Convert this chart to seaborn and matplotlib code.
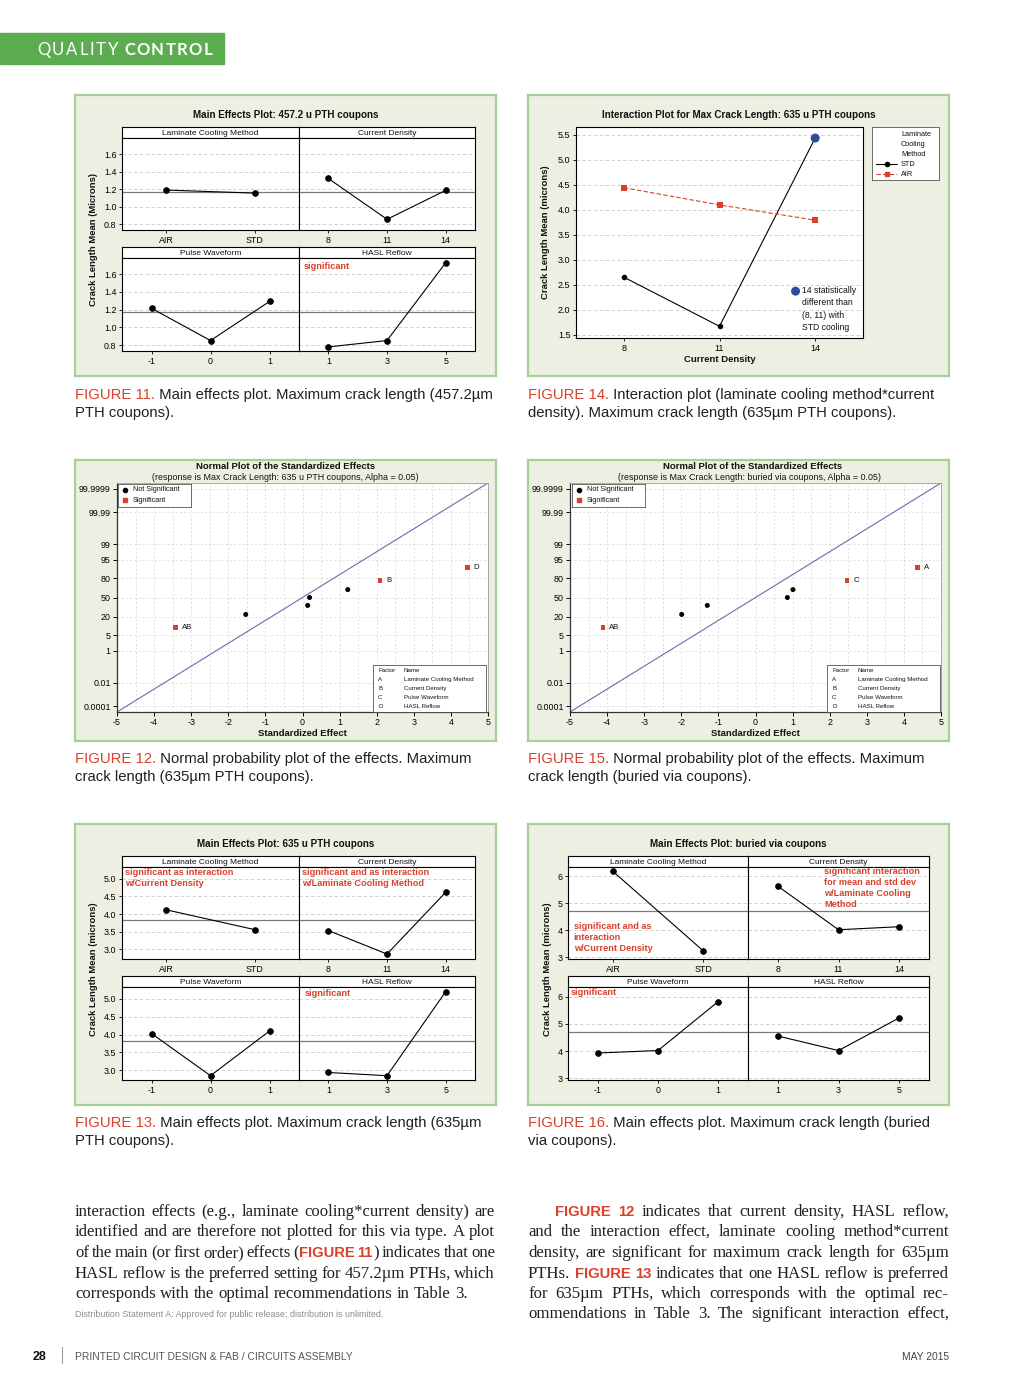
import numpy as np
import pandas as pd
import matplotlib
matplotlib.use("Agg")
import matplotlib.pyplot as plt
import seaborn as sns
from matplotlib.lines import Line2D
from statistics import NormalDist

# ------------------------------------------------------------------ data
# FIGURE 11 : main effects, 457.2 u PTH coupons
f11_lcm_levels = ["AIR", "STD"]
f11_lcm_means = [1.190, 1.155]
f11_cd_levels = ["8", "11", "14"]
f11_cd_means = [1.322, 0.857, 1.186]
f11_pw_levels = ["-1", "0", "1"]
f11_pw_means = [1.216, 0.853, 1.293]
f11_hasl_levels = ["1", "3", "5"]
f11_hasl_means = [0.781, 0.853, 1.729]
f11_grand_mean = 1.172

# FIGURE 13 : main effects, 635 u PTH coupons
f13_lcm_means = [4.12, 3.56]
f13_cd_means = [3.535, 2.87, 4.615]
f13_pw_means = [4.03, 2.85, 4.10]
f13_hasl_means = [2.94, 2.85, 5.20]
f13_grand_mean = 3.82

# FIGURE 16 : main effects, buried via coupons
f16_lcm_means = [6.185, 3.25]
f16_cd_means = [5.63, 4.025, 4.136]
f16_pw_means = [3.93, 4.02, 5.81]
f16_hasl_means = [4.55, 4.02, 5.21]
f16_grand_mean = 4.71

# FIGURE 14 : interaction plot
f14_current_density = [8, 11, 14]
f14_std_means = [2.65, 1.667, 5.433]
f14_air_means = [4.44, 4.095, 3.79]

# FIGURE 12 / 15 : normal plots of standardized effects
f12_effects = [-3.43, -1.53, 0.14, 0.19, 1.22, 2.09, 4.45]
f12_percent = [9.46, 22.97, 36.49, 50.0, 63.51, 77.03, 90.54]
f12_terms = ["AB", "", "", "", "", "B", "D"]
f12_significant = [True, False, False, False, False, True, True]

f15_effects = [-4.11, -1.99, -1.30, 0.86, 1.01, 2.47, 4.37]
f15_percent = [9.46, 22.97, 36.49, 50.0, 63.51, 77.03, 90.54]
f15_terms = ["AB", "", "", "", "", "C", "A"]
f15_significant = [True, False, False, False, False, True, True]

prob_ticks = [0.0001, 0.01, 1, 5, 20, 50, 80, 95, 99, 99.99, 99.9999]
prob_labels = ["0.0001", "0.01", "1", "5", "20", "50", "80", "95", "99", "99.99", "99.9999"]
factor_codes = ["A", "B", "C", "D"]
factor_names = ["Laminate Cooling Method", "Current Density", "Pulse Waveform", "HASL Reflow"]

# ------------------------------------------------------------------ setup
W, H = 1024, 1392
sns.set_theme(style="white")
plt.rcParams['font.family'] = ['Liberation Sans', 'DejaVu Sans']
plt.rcParams['axes.linewidth'] = 0.8
plt.rcParams['axes.unicode_minus'] = False

RED = '#d8412c'
BLUE = '#2f4c9c'
BOX_BG = '#efeee2'
BOX_EDGE = '#a6d196'
GRID = '#c9c9c9'
TXT = '#231f20'

fig = plt.figure(figsize=(W / 100, H / 100), dpi=100)
fig.patch.set_facecolor('white')
renderer = fig.canvas.get_renderer()


def ax_px(x0, y0, x1, y1):
    return fig.add_axes([x0 / W, 1 - y1 / H, (x1 - x0) / W, (y1 - y0) / H])


def ftext(x, y, s, **kw):
    return fig.text(x / W, 1 - y / H, s, **kw)


def measure(s, **kw):
    t1 = fig.text(0, 0, '|' + s + '|', **kw)
    t2 = fig.text(0, 0, '||', **kw)
    w = t1.get_window_extent(renderer).width - t2.get_window_extent(renderer).width
    t1.remove()
    t2.remove()
    return w


def bare(ax, face='white', edge='black', lw=0.8):
    ax.set_facecolor(face)
    ax.set_xticks([])
    ax.set_yticks([])
    for s in ax.spines.values():
        s.set_color(edge)
        s.set_linewidth(lw)


def panel_box(x0, y0, x1, y1):
    a = ax_px(x0, y0, x1, y1)
    bare(a, BOX_BG, BOX_EDGE, 1.6)
    a.set_zorder(-1)


# ------------------------------------------------------------------ main effects
def main_effects(box, fx0, fdiv, fx1, title, ylabel, ylabel_x, ylim, yticks, yfmt,
                 facets, grand_mean, notes):
    bx0, by0, bx1, by1 = box
    panel_box(*box)
    rows = [(by0 + 32, by0 + 43, by0 + 135), (by0 + 152, by0 + 163, by0 + 256)]
    cols = [(fx0, fdiv), (fdiv, fx1)]
    for i, (name, levels, means) in enumerate(facets):
        r, c = divmod(i, 2)
        h0, p0, p1 = rows[r]
        x0, x1 = cols[c]
        sax = ax_px(x0, h0, x1, p0)
        bare(sax)
        sax.text(0.5, 0.45, name, ha='center', va='center', fontsize=6,
                 transform=sax.transAxes, color='#111111')
        ax = ax_px(x0, p0, x1, p1)
        ax.set_facecolor('white')
        df = pd.DataFrame({'pos': np.arange(len(levels)), 'mean': means})
        ax.axhline(grand_mean, color='#7a7a7a', lw=0.9, zorder=1)
        sns.lineplot(data=df, x='pos', y='mean', marker='o', color='black',
                     linewidth=0.8, markersize=4, markeredgecolor='black',
                     errorbar=None, ax=ax, zorder=3)
        ax.set_xlim(-0.5, len(levels) - 0.5)
        ax.set_xticks(range(len(levels)))
        ax.set_xticklabels(levels)
        ax.set_ylim(*ylim)
        ax.set_yticks(yticks)
        ax.grid(True, axis='y', color=GRID, lw=0.6, ls=(0, (4, 3)))
        ax.set_axisbelow(True)
        ax.tick_params(bottom=True, left=(c == 0), direction='out', length=2.5,
                       width=0.6, labelsize=6.4, pad=1.5, colors='black')
        if c == 0:
            ax.set_yticklabels([yfmt.format(v) for v in yticks])
        else:
            ax.set_yticklabels([])
            ax.tick_params(axis='y', length=0)
        ax.set_xlabel('')
        ax.set_ylabel('')
        for s in ax.spines.values():
            s.set_color('black')
            s.set_linewidth(0.8)
        for (txt, nx, ny, va) in notes.get(i, []):
            ax.text(nx, ny, txt, transform=ax.transAxes, ha='left', va=va,
                    color=RED, fontsize=6.6, fontweight='bold', linespacing=1.3,
                    zorder=5)
    ftext((bx0 + bx1) / 2, by0 + 20, title, ha='center', va='center',
          fontsize=7.1, fontweight='bold', color='#111111')
    ftext(ylabel_x, by0 + 145, ylabel, ha='center', va='center', rotation=90,
          fontsize=6.8, fontweight='bold', color='#111111')


main_effects((75, 95, 496, 376), 122, 299, 475,
             "Main Effects Plot: 457.2 u PTH coupons", "Crack Length Mean (Microns)", 93,
             (0.735, 1.783), [0.8, 1.0, 1.2, 1.4, 1.6], "{:.1f}",
             [("Laminate Cooling Method", f11_lcm_levels, f11_lcm_means),
              ("Current Density", f11_cd_levels, f11_cd_means),
              ("Pulse Waveform", f11_pw_levels, f11_pw_means),
              ("HASL Reflow", f11_hasl_levels, f11_hasl_means)],
             f11_grand_mean,
             {3: [("significant", 0.025, 0.91, 'center')]})

main_effects((75, 824, 496, 1105), 122, 299, 475,
             "Main Effects Plot: 635 u PTH coupons", "Crack Length Mean (microns)", 94,
             (2.73, 5.33), [3.0, 3.5, 4.0, 4.5, 5.0], "{:.1f}",
             [("Laminate Cooling Method", f11_lcm_levels, f13_lcm_means),
              ("Current Density", f11_cd_levels, f13_cd_means),
              ("Pulse Waveform", f11_pw_levels, f13_pw_means),
              ("HASL Reflow", f11_hasl_levels, f13_hasl_means)],
             f13_grand_mean,
             {0: [("significant as interaction\nw/Current Density", 0.015, 0.985, 'top')],
              1: [("significant and as interaction\nw/Laminate Cooling Method", 0.015, 0.985, 'top')],
              3: [("significant", 0.034, 0.925, 'center')]})

main_effects((528, 824, 949, 1105), 568, 748, 929,
             "Main Effects Plot: buried via coupons", "Crack Length Mean (microns)", 547,
             (2.94, 6.35), [3, 4, 5, 6], "{:.0f}",
             [("Laminate Cooling Method", f11_lcm_levels, f16_lcm_means),
              ("Current Density", f11_cd_levels, f16_cd_means),
              ("Pulse Waveform", f11_pw_levels, f16_pw_means),
              ("HASL Reflow", f11_hasl_levels, f16_hasl_means)],
             f16_grand_mean,
             {0: [("significant and as\ninteraction\nw/Current Density", 0.031, 0.40, 'top')],
              1: [("significant interaction\nfor mean and std dev\nw/Laminate Cooling\nMethod", 0.42, 1.0, 'top')],
              2: [("significant", 0.013, 0.946, 'center')]})

# ------------------------------------------------------------------ interaction plot
panel_box(528, 95, 949, 376)
ax = ax_px(576, 127, 863, 338)
ax.set_facecolor('white')
df14 = pd.DataFrame({
    'cd': f14_current_density * 2,
    'mean': f14_std_means + f14_air_means,
    'method': ['STD'] * 3 + ['AIR'] * 3,
})
sns.lineplot(data=df14, x='cd', y='mean', hue='method', style='method',
             palette={'STD': 'black', 'AIR': RED},
             markers={'STD': 'o', 'AIR': 's'}, dashes={'STD': '', 'AIR': (4, 2)},
             markersize=4, linewidth=0.8, markeredgewidth=0, legend=False,
             errorbar=None, ax=ax)
sns.scatterplot(x=[f14_current_density[2]], y=[f14_std_means[2]], s=42, color=BLUE,
                edgecolor='none', ax=ax, zorder=5)
ax.set_xlim(6.5, 15.5)
ax.set_ylim(1.433, 5.654)
ax.set_xticks(f14_current_density)
ax.set_yticks(np.arange(1.5, 5.51, 0.5))
ax.set_yticklabels([f"{v:.1f}" for v in np.arange(1.5, 5.51, 0.5)])
ax.grid(True, axis='y', color=GRID, lw=0.6, ls=(0, (4, 3)))
ax.set_axisbelow(True)
ax.tick_params(bottom=True, left=True, direction='out', length=2.5, width=0.6,
               labelsize=6.5, pad=1.5, colors='black')
ax.set_xlabel('')
ax.set_ylabel('')
for s in ax.spines.values():
    s.set_color('black')
    s.set_linewidth(0.8)
ax.scatter([0.765], [0.222], s=42, color=BLUE, transform=ax.transAxes, zorder=6,
           edgecolor='none', clip_on=False)
ax.text(0.786, 0.245, "14 statistically\ndifferent than\n(8, 11) with\nSTD cooling",
        transform=ax.transAxes, ha='left', va='top', fontsize=6.2, linespacing=1.45,
        color='#111111')
ftext(738.5, 115, "Interaction Plot for Max Crack Length: 635 u PTH coupons",
      ha='center', va='center', fontsize=7.1, fontweight='bold', color='#111111')
ftext(719.5, 360, "Current Density", ha='center', va='center', fontsize=6.8,
      fontweight='bold', color='#111111')
ftext(546, 232, "Crack Length Mean (microns)", ha='center', va='center', rotation=90,
      fontsize=6.8, fontweight='bold', color='#111111')
lax = ax_px(872, 127, 939, 180)
bare(lax, 'white', '#555555', 0.6)
lax.set_xlim(0, 1)
lax.set_ylim(0, 1)
for lab, yy in [("Laminate", 134), ("Cooling", 144), ("Method", 154),
                ("STD", 164.5), ("AIR", 174.5)]:
    ftext(901, yy, lab, ha='left', va='center', fontsize=5.3, color='#111111')
lax.add_line(Line2D([0.06, 0.38], [0.30, 0.30], transform=lax.transAxes, color='black',
                    lw=0.8))
lax.plot([0.22], [0.30], 'o', transform=lax.transAxes, color='black', markersize=3)
lax.add_line(Line2D([0.06, 0.38], [0.11, 0.11], transform=lax.transAxes, color=RED,
                    lw=0.8, ls=(0, (4, 2))))
lax.plot([0.22], [0.11], 's', transform=lax.transAxes, color=RED, markersize=3)

# ------------------------------------------------------------------ normal plots
nd = NormalDist()


def normal_plot(box, axr, title_x, sub_x, subtitle, effects, percent, terms, sig,
                leg_r, tab_r):
    panel_box(*box)
    ax = ax_px(*axr)
    ax.set_facecolor('white')
    z = [nd.inv_cdf(p / 100) for p in percent]
    df = pd.DataFrame({'effect': effects, 'z': z, 'sig': sig, 'term': terms})
    ax.axline((0, 0), slope=1, color='#6c6caa', lw=0.8, zorder=2)
    sns.scatterplot(data=df[~df.sig], x='effect', y='z', color='black', marker='o',
                    s=13, edgecolor='none', ax=ax, zorder=4)
    sns.scatterplot(data=df[df.sig], x='effect', y='z', color=RED, marker='s',
                    s=11, edgecolor='none', ax=ax, zorder=4)
    for e, zz, t in zip(df.effect, df.z, df.term):
        if t:
            ax.annotate(t, (e, zz), xytext=(4.5, 0), textcoords='offset points',
                        ha='left', va='center', fontsize=5.6, color='#111111')
    ax.set_xlim(-5, 5)
    ax.set_ylim(-5, 5)
    ax.set_xticks(range(-5, 6))
    ax.set_xticks(np.arange(-4.5, 5, 1.0), minor=True)
    ax.set_yticks([nd.inv_cdf(p / 100) for p in prob_ticks])
    ax.set_yticklabels(prob_labels)
    ax.grid(True, which='both', axis='x', color='#d4d4d4', lw=0.5, ls=(0, (3, 3)))
    ax.grid(True, which='major', axis='y', color='#d4d4d4', lw=0.5, ls=(0, (3, 3)))
    ax.set_axisbelow(True)
    ax.tick_params(bottom=True, left=True, direction='out', length=3, width=0.7,
                   labelsize=6.4, pad=1.5, colors='black')
    ax.tick_params(which='minor', length=0)
    ax.set_xlabel('')
    ax.set_ylabel('')
    for k, s in ax.spines.items():
        if k in ('left', 'bottom'):
            s.set_color('#333333')
            s.set_linewidth(0.9)
        else:
            s.set_color('#9a9a9a')
            s.set_linewidth(0.6)
    ftext(title_x, 466.5, "Normal Plot of the Standardized Effects", ha='center',
          va='center', fontsize=6.8, fontweight='bold', color='#111111')
    ftext(sub_x, 477, subtitle, ha='center', va='center', fontsize=6.4, color='#111111')
    ftext((axr[0] + axr[2]) / 2, 734, "Standardized Effect", ha='center', va='center',
          fontsize=6.8, fontweight='bold', color='#111111')
    # legend
    lg = ax_px(*leg_r)
    bare(lg, 'white', '#555555', 0.6)
    lg.set_xlim(0, 1)
    lg.set_ylim(0, 1)
    lg.scatter([0.096], [0.74], s=9, color='black', transform=lg.transAxes)
    lg.scatter([0.096], [0.29], s=8, marker='s', color=RED, transform=lg.transAxes)
    lg.text(0.2, 0.74, "Not Significant", transform=lg.transAxes, va='center',
            fontsize=5.2, color='#111111')
    lg.text(0.2, 0.29, "Significant", transform=lg.transAxes, va='center',
            fontsize=5.2, color='#111111')
    # factor table
    tb = ax_px(*tab_r)
    bare(tb, 'white', '#555555', 0.6)
    rows_y = [0.88, 0.69, 0.50, 0.31, 0.12]
    tb.text(0.045, rows_y[0], "Factor", transform=tb.transAxes, va='center',
            fontsize=4.4, color='#111111')
    tb.text(0.27, rows_y[0], "Name", transform=tb.transAxes, va='center',
            fontsize=4.4, color='#111111')
    for code, name, yy in zip(factor_codes, factor_names, rows_y[1:]):
        tb.text(0.045, yy, code, transform=tb.transAxes, va='center', fontsize=4.4,
                color='#111111')
        tb.text(0.27, yy, name, transform=tb.transAxes, va='center', fontsize=4.4,
                color='#111111')


normal_plot((75, 460, 496, 741), (117, 483, 488, 712), 285.5, 285.5,
            "(response is Max Crack Length: 635 u PTH coupons, Alpha = 0.05)",
            f12_effects, f12_percent, f12_terms, f12_significant,
            (118, 484, 191, 507), (373, 665, 486, 712))
normal_plot((528, 460, 949, 741), (570, 483, 941, 712), 753, 750,
            "(response is Max Crack Length: buried via coupons, Alpha = 0.05)",
            f15_effects, f15_percent, f15_terms, f15_significant,
            (572, 484, 645, 507), (827, 665, 940, 712))

# ------------------------------------------------------------------ page furniture
CAP_FAM = ['Liberation Sans Narrow', 'Liberation Sans']
cap_kw = dict(family=CAP_FAM, color=TXT)
cap_size = 10.0 * 419 / measure("FIGURE 11. Main effects plot. Maximum crack length (457.2µm",
                                fontsize=10, **cap_kw)

captions = [
    (75, 399, "FIGURE 11.", " Main effects plot. Maximum crack length (457.2µm", "PTH coupons)."),
    (528, 399, "FIGURE 14.", " Interaction plot (laminate cooling method*current",
     "density). Maximum crack length (635µm PTH coupons)."),
    (75, 763, "FIGURE 12.", " Normal probability plot of the effects. Maximum",
     "crack length (635µm PTH coupons)."),
    (528, 763, "FIGURE 15.", " Normal probability plot of the effects. Maximum",
     "crack length (buried via coupons)."),
    (75, 1127, "FIGURE 13.", " Main effects plot. Maximum crack length (635µm", "PTH coupons)."),
    (528, 1127, "FIGURE 16.", " Main effects plot. Maximum crack length (buried", "via coupons)."),
]
for x, y, lead, rest, line2 in captions:
    ftext(x, y, lead, va='baseline', fontsize=cap_size, family=CAP_FAM, color=RED)
    wl = measure(lead, fontsize=cap_size, family=CAP_FAM)
    ftext(x + wl, y, rest, va='baseline', fontsize=cap_size, **cap_kw)
    ftext(x, y + 18, line2, va='baseline', fontsize=cap_size, **cap_kw)

# body text (justified)
SERIF = ['Liberation Serif', 'DejaVu Serif']
left_lines = [
    "interaction effects (e.g., laminate cooling*current density) are",
    "identified and are therefore not plotted for this via type. A plot",
    "of the main (or first order) effects ({FIGURE 11}) indicates that one",
    "HASL reflow is the preferred setting for 457.2µm PTHs, which",
    "corresponds with the optimal recommendations in Table 3.",
]
right_lines = [
    "{FIGURE 12} indicates that current density, HASL reflow,",
    "and the interaction effect, laminate cooling method*current",
    "density, are significant for maximum crack length for 635µm",
    "PTHs. {FIGURE 13} indicates that one HASL reflow is preferred",
    "for 635µm PTHs, which corresponds with the optimal rec-",
    "ommendations in Table 3. The significant interaction effect,",
]


def parse_line(s):
    words = []
    red = False
    for tok in s.split(' '):
        runs = []
        cur = ''
        for ch in tok:
            if ch in '{}':
                if cur:
                    runs.append((cur, red))
                cur = ''
                red = (ch == '{')
            else:
                cur += ch
        if cur:
            runs.append((cur, red))
        words.append(runs)
    return words


def style(red, size):
    if red:
        return dict(family=['Liberation Sans', 'DejaVu Sans'], fontweight='bold',
                    color=RED, fontsize=size * 0.88)
    return dict(family=SERIF, color=TXT, fontsize=size)


def words_width(line, size):
    words = parse_line(line)
    tot = sum(measure(t, **style(r, size)) for w in words for t, r in w)
    return tot, len(words)


sp10 = measure(' ', **style(False, 10))
body_size = 12.3
for ln, avail in [(l, 420) for l in left_lines[:-1]] + [(right_lines[0], 394)] + \
        [(l, 421) for l in right_lines[1:]]:
    tot, n = words_width(ln, 10)
    body_size = min(body_size, 10 * avail / (tot + 0.6 * sp10 * (n - 1)))


def draw_line(x0, x1, y, line, size, justify):
    words = parse_line(line)
    ws = [sum(measure(t, **style(r, size)) for t, r in w) for w in words]
    if justify and len(words) > 1:
        gap = (x1 - x0 - sum(ws)) / (len(words) - 1)
    else:
        gap = measure(' ', **style(False, size))
    x = x0
    for runs, w in zip(words, ws):
        xx = x
        for t, r in runs:
            st = style(r, size)
            ftext(xx, y, t, va='baseline', **st)
            xx += measure(t, **st)
        x += w + gap


bases = [1216, 1236.5, 1257, 1277.5, 1298, 1318.5]
for i, ln in enumerate(left_lines):
    draw_line(75, 495, bases[i], ln, body_size, justify=(i < len(left_lines) - 1))
for i, ln in enumerate(right_lines):
    draw_line(555 if i == 0 else 528, 949, bases[i], ln, body_size, justify=True)

dist = "Distribution Statement A: Approved for public release; distribution is unlimited."
dsize = 7.0 * 306 / measure(dist, fontsize=7, family=CAP_FAM)
ftext(75, 1317, dist, va='baseline', fontsize=dsize, family=CAP_FAM, color='#8c8c8c')

# header bar
fig.patches.append(plt.Rectangle((0, 1 - 64 / H), 224 / W, 31 / H,
                                 transform=fig.transFigure, color='#5cad50', zorder=0))


def tracked(x, y, s, target, **kw):
    ws = [measure(ch, **kw) for ch in s]
    track = (target - sum(ws)) / (len(s) - 1)
    for ch, w in zip(s, ws):
        ftext(x, y, ch, va='baseline', **kw)
        x += w + track


tracked(37, 55, "QUALITY", 81, family=['Lato', 'Liberation Sans'], fontweight='normal',
        fontsize=12, color='white')
tracked(124, 55, "CONTROL", 88, family=['Lato', 'Liberation Sans'], fontweight='bold',
        fontsize=12, color='white')

# footer
ftext(33, 1360, "28", va='baseline', fontsize=9, fontweight='bold', family=CAP_FAM,
      color='#111111')
fig.add_artist(Line2D([62 / W, 62 / W], [1 - 1347 / H, 1 - 1363 / H],
                      transform=fig.transFigure, color='#9a9a9a', lw=0.8))
foot = "PRINTED CIRCUIT DESIGN & FAB / CIRCUITS ASSEMBLY"
fsize = 9 * 277 / measure(foot, fontsize=9, family=CAP_FAM)
ftext(75, 1360, foot, va='baseline', fontsize=fsize, family=CAP_FAM, color='#555555')
ftext(949, 1360, "MAY 2015", va='baseline', ha='right', fontsize=fsize, family=CAP_FAM,
      color='#444444')

fig.savefig("out.png", dpi=100, facecolor='white')
